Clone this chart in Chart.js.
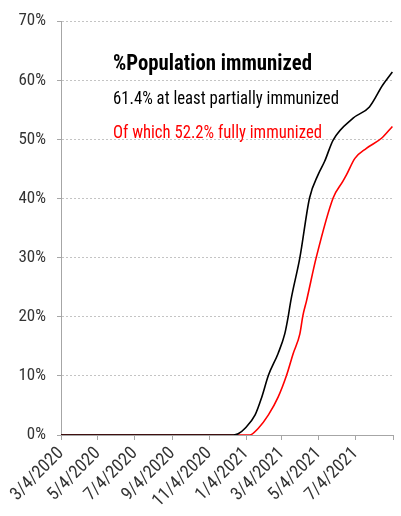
<!DOCTYPE html>
<html>
<head>
<meta charset="utf-8">
<script src="https://cdn.jsdelivr.net/npm/chart.js@4"></script>
<style>
  html, body { margin: 0; padding: 0; background: #fff; }
  #wrap { width: 401px; height: 516px; }
</style>
</head>
<body>
<div id="wrap"><canvas id="chart" width="401" height="516"></canvas></div>
<script>
// axis range (date axis, days since start)
const startDate = '2020-03-04';
const endDate = '2021-09-04';

// at least partially immunized (% of population)
const partialDates = ['2020-03-04', '2020-12-14', '2020-12-22', '2021-01-02', '2021-01-19', '2021-01-30',
  '2021-02-10', '2021-02-26', '2021-03-09', '2021-03-15', '2021-03-19', '2021-04-03', '2021-04-19',
  '2021-05-03', '2021-05-14', '2021-05-28', '2021-06-30', '2021-07-27', '2021-08-18', '2021-09-03'];
const partialPct = [0, 0, 0.2, 1.1, 3.4, 6.4, 10.1, 13.8, 17.1, 20.2, 22.7, 30.0, 40.1,
  44.0, 46.3, 49.9, 53.6, 55.5, 59.2, 61.4];

// fully immunized
const fullDates = ['2020-03-04', '2021-01-10', '2021-01-24', '2021-02-10', '2021-02-26', '2021-03-12',
  '2021-03-23', '2021-04-03', '2021-04-08', '2021-04-14', '2021-04-30', '2021-05-28', '2021-06-13',
  '2021-06-19', '2021-07-03', '2021-07-22', '2021-08-16', '2021-09-03'];
const fullPct = [0, 0, 1.1, 3.4, 6.4, 10.1, 13.8, 17.1, 20.2, 22.7, 30.0, 40.1, 42.9,
  44.0, 46.8, 48.5, 50.2, 52.2];

const tickLabels = ['3/4/2020', '5/4/2020', '7/4/2020', '9/4/2020', '11/4/2020',
  '1/4/2021', '3/4/2021', '5/4/2021', '7/4/2021'];

const titleText = '%Population immunized';
const partialText = '61.4% at least partially immunized';
const fullText = 'Of which 52.2% fully immunized';

const dayOf = (iso) => Math.round((Date.parse(iso) - Date.parse(startDate)) / 864e5);
const mdyToIso = (s) => {
  const [m, d, y] = s.split('/');
  return y + '-' + m.padStart(2, '0') + '-' + d.padStart(2, '0');
};

const labelByDay = {};
tickLabels.forEach(l => { labelByDay[dayOf(mdyToIso(l))] = l; });
const tickDays = Object.keys(labelByDay).map(Number).concat(dayOf(endDate));

const FONT = "'Roboto Condensed', 'Liberation Sans', sans-serif";
const axisGrey = '#a6a6a6';
const textGrey = '#333333';

// draw text squeezed to a given width
function fitText(ctx, text, x, y, width) {
  const w = ctx.measureText(text).width;
  ctx.save();
  ctx.translate(x, y);
  ctx.scale(width / w, 1);
  ctx.fillText(text, 0, 0);
  ctx.restore();
}

const labelsPlugin = {
  id: 'annot',
  afterDraw(chart) {
    const { ctx, chartArea } = chart;
    const x = chartArea.left + 52;
    ctx.save();
    ctx.textBaseline = 'alphabetic';
    ctx.textAlign = 'left';
    ctx.fillStyle = '#000';
    ctx.font = 'bold 22px ' + FONT;
    fitText(ctx, titleText, x, 70, 199);
    ctx.font = '19px ' + FONT;
    fitText(ctx, partialText, x, 104, 226);
    ctx.fillStyle = '#ff0000';
    fitText(ctx, fullText, x, 138, 209);
    ctx.restore();
  }
};

new Chart(document.getElementById('chart'), {
  type: 'line',
  data: {
    datasets: [
      { label: 'partial', data: partialDates.map((d, i) => ({ x: dayOf(d), y: partialPct[i] })),
        borderColor: '#000', borderWidth: 1.6, fill: false },
      { label: 'full', data: fullDates.map((d, i) => ({ x: dayOf(d), y: fullPct[i] })),
        borderColor: '#ff0000', borderWidth: 1.6, fill: false },
    ],
  },
  options: {
    responsive: false,
    animation: false,
    layout: { padding: { top: 19, right: 8, left: 0, bottom: 0 } },
    elements: { point: { radius: 0 }, line: { cubicInterpolationMode: 'monotone' } },
    plugins: { legend: { display: false }, tooltip: { enabled: false } },
    scales: {
      x: {
        type: 'linear', min: 0, max: dayOf(endDate),
        afterBuildTicks: (s) => { s.ticks = tickDays.map(v => ({ value: v })); },
        afterFit: (s) => { s.height = 81; s.paddingLeft = 0; s.paddingRight = 0; },
        ticks: { autoSkip: false, minRotation: 45, maxRotation: 45, padding: 3, color: textGrey,
          font: { family: FONT, size: 18 }, callback: (v) => labelByDay[v] || '' },
        grid: { drawOnChartArea: false, drawTicks: true, tickLength: 5, tickColor: axisGrey },
        border: { color: axisGrey, width: 1 },
      },
      y: {
        min: 0, max: 70,
        afterFit: (s) => { s.width = 61; },
        ticks: { stepSize: 10, padding: 11, color: textGrey, font: { family: FONT, size: 17 },
          callback: (v) => v + '%' },
        grid: { color: '#c4c4c4', lineWidth: 1, tickLength: 4, tickColor: axisGrey, tickBorderDash: [] },
        border: { color: axisGrey, width: 1, dash: [2, 2] },
      },
    },
  },
  plugins: [labelsPlugin],
});
</script>
</body>
</html>
